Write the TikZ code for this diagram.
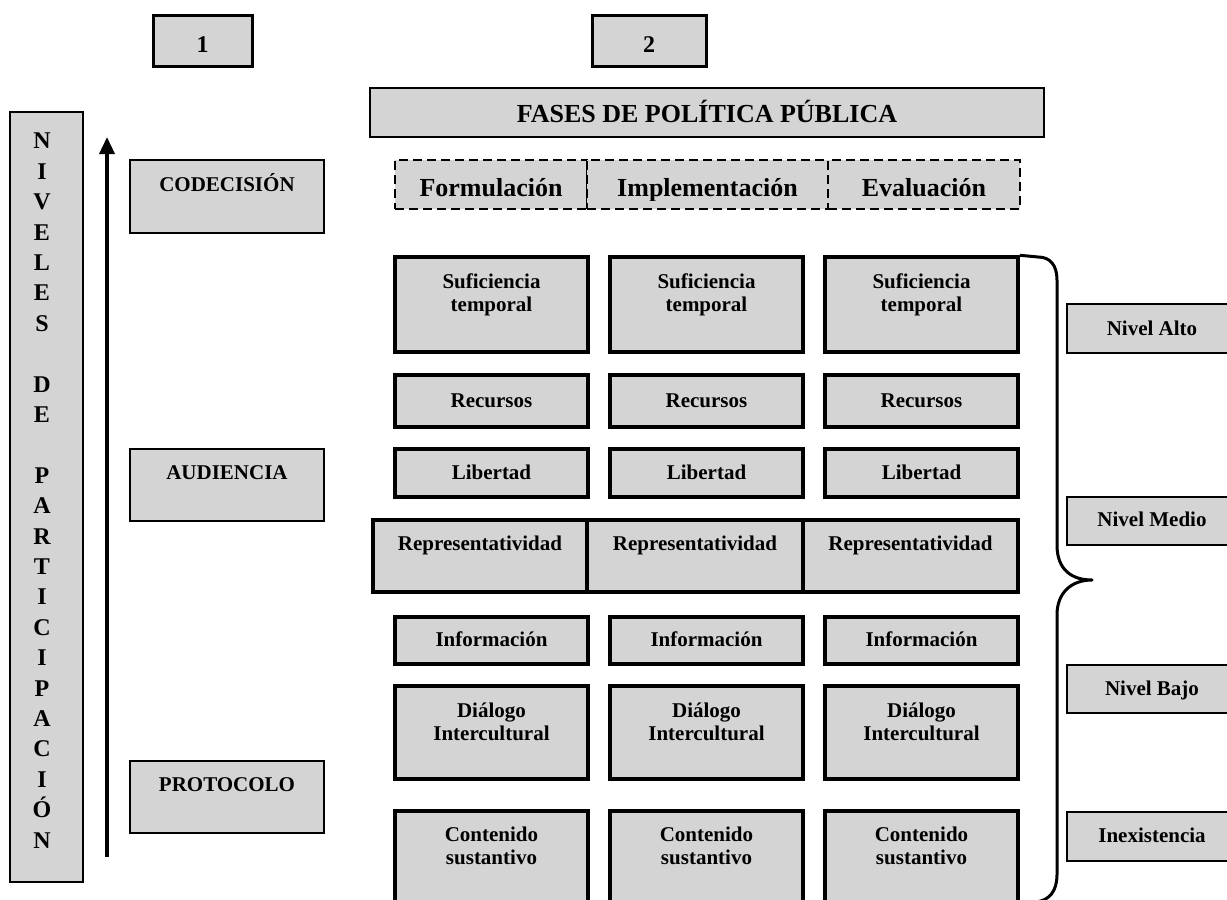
\documentclass[tikz,border=0pt]{standalone}
\usepackage{fontspec}
\setmainfont{Liberation Serif}
\usetikzlibrary{arrows.meta}
\definecolor{boxgray}{RGB}{212,212,212}

% box with its label; the label's last baseline sits the given distance below the top edge
\newcommand\labbox[8]{%
  \node[#1, minimum width=#5, minimum height=#6] (#2) at (#3,#4) {};
  \node[#1text, anchor=base] (#2t) at ([yshift=-#7pt]#2.north) {#8};}

\begin{document}
\begin{tikzpicture}[x=1pt,y=-1pt,
  cell/.style={draw, fill=boxgray, line width=3.5pt, rectangle, inner sep=0pt},
  celltext/.style={font=\bfseries\fontsize{21}{23}\selectfont, align=center, inner sep=0pt},
  side/.style={draw, fill=boxgray, line width=2.5pt, rectangle, inner sep=0pt},
  sidetext/.style={font=\bfseries\fontsize{21}{23}\selectfont, align=center, inner sep=0pt},
  numbox/.style={draw, fill=boxgray, line width=3pt, rectangle, inner sep=0pt},
  numboxtext/.style={font=\bfseries\fontsize{24}{28}\selectfont, inner sep=0pt},
  head/.style={draw, fill=boxgray, line width=2.5pt, rectangle, inner sep=0pt},
  headtext/.style={font=\bfseries\fontsize{26}{30}\selectfont, inner sep=0pt},
  phase/.style={draw, fill=boxgray, line width=2.5pt, dash pattern=on 9pt off 5pt, rectangle, inner sep=0pt},
  phasetext/.style={font=\bfseries\fontsize{26}{30}\selectfont, inner sep=0pt},
  brace/.style={draw, line width=3pt, line join=round},
]
\useasboundingbox (0,0) rectangle (1227,900);

% column numbers
\labbox{numbox}{n1}{202.5}{40.5}{99pt}{51pt}{39}{1}
\labbox{numbox}{n2}{649}{40.5}{114pt}{51pt}{39}{2}

% participation scale on the left
\node[side, minimum width=73pt, minimum height=770pt] (niv) at (46.5,497) {};
\node[font=\bfseries\fontsize{24}{30.4}\selectfont, align=center, inner sep=0pt, anchor=north] (nivt) at (42,133)
  {N\\I\\V\\E\\L\\E\\S\\[30.4pt]D\\E\\[30.4pt]P\\A\\R\\T\\I\\C\\I\\P\\A\\C\\I\\Ó\\N};
\coordinate (arrS) at (107,857);
\coordinate (arrE) at (107,137);
\draw[-{Triangle[length=17pt,width=15pt]}, line width=3.5pt] (arrS) -- (arrE);

\labbox{side}{cod}{227}{196.5}{194pt}{73pt}{33}{CODECISIÓN}
\labbox{side}{aud}{227}{485}{194pt}{72pt}{32}{AUDIENCIA}
\labbox{side}{pro}{227}{797}{194pt}{72pt}{32}{PROTOCOLO}

% policy phases
\labbox{head}{fases}{707}{112.5}{674pt}{49pt}{36}{FASES DE POLÍTICA PÚBLICA}
\node[phase, minimum width=192pt, minimum height=49pt] (pf) at (491,184.5) {};
\node[phase, minimum width=241pt, minimum height=49pt] (pi) at (707.5,184.5) {};
\node[phase, minimum width=192pt, minimum height=49pt] (pe) at (924,184.5) {};
\begin{scope}
  \clip (395,160) rectangle (1020,200.5);
  \node[phasetext, anchor=base] (pft) at ([yshift=-38pt]pf.north) {Formulación};
  \node[phasetext, anchor=base] (pit) at ([yshift=-38pt]pi.north) {Implementación};
  \node[phasetext, anchor=base] (pet) at ([yshift=-38pt]pe.north) {Evaluación};
\end{scope}

% criteria grid
\labbox{cell}{a1}{491.5}{304.5}{193pt}{95pt}{56}{Suficiencia\\temporal}
\labbox{cell}{a2}{706.5}{304.5}{193pt}{95pt}{56}{Suficiencia\\temporal}
\labbox{cell}{a3}{921.5}{304.5}{193pt}{95pt}{56}{Suficiencia\\temporal}

\labbox{cell}{b1}{491.5}{401}{193pt}{52pt}{34}{Recursos}
\labbox{cell}{b2}{706.5}{401}{193pt}{52pt}{34}{Recursos}
\labbox{cell}{b3}{921.5}{401}{193pt}{52pt}{34}{Recursos}

\labbox{cell}{c1}{491.5}{473}{193pt}{48pt}{32}{Libertad}
\labbox{cell}{c2}{706.5}{473}{193pt}{48pt}{32}{Libertad}
\labbox{cell}{c3}{921.5}{473}{193pt}{48pt}{32}{Libertad}

\labbox{cell}{d1}{480}{556}{214pt}{72pt}{32}{Representatividad}
\labbox{cell}{d2}{695}{556}{216pt}{72pt}{32}{Representatividad}
\labbox{cell}{d3}{910.5}{556}{215pt}{72pt}{32}{Representatividad}

\labbox{cell}{e1}{491.5}{640.5}{193pt}{47pt}{31}{Información}
\labbox{cell}{e2}{706.5}{640.5}{193pt}{47pt}{31}{Información}
\labbox{cell}{e3}{921.5}{640.5}{193pt}{47pt}{31}{Información}

\labbox{cell}{f1}{491.5}{732.5}{193pt}{93pt}{56}{Diálogo\\Intercultural}
\labbox{cell}{f2}{706.5}{732.5}{193pt}{93pt}{56}{Diálogo\\Intercultural}
\labbox{cell}{f3}{921.5}{732.5}{193pt}{93pt}{56}{Diálogo\\Intercultural}

\labbox{cell}{g1}{491.5}{860.5}{193pt}{99pt}{55}{Contenido\\sustantivo}
\labbox{cell}{g2}{706.5}{860.5}{193pt}{99pt}{55}{Contenido\\sustantivo}
\labbox{cell}{g3}{921.5}{860.5}{193pt}{99pt}{55}{Contenido\\sustantivo}

% brace grouping the grid
\coordinate (tip) at (1092,580);
\coordinate (bend) at (1035,902);
\draw[brace] (a3.north east) -- (1038,257) .. controls (1050,257) and (1057,265) .. (1057,280)
  -- (1057,545) .. controls (1057,570) and (1072,580) .. (tip)
  .. controls (1072,580) and (1057,592) .. (1057,615)
  -- (1057,875) .. controls (1057,890) and (1050,901) .. (bend);

% levels on the right
\labbox{side}{alto}{1152}{328.5}{170pt}{49pt}{33}{Nivel Alto}
\labbox{side}{medio}{1152}{521}{170pt}{48pt}{31}{Nivel Medio}
\labbox{side}{bajo}{1152}{689}{170pt}{48pt}{32}{Nivel Bajo}
\labbox{side}{inex}{1152}{836.5}{170pt}{49pt}{32}{Inexistencia}
\end{tikzpicture}
\end{document}
